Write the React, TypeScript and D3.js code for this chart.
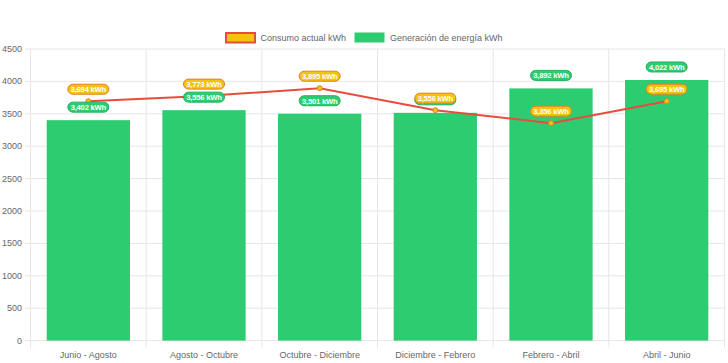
import React from "react";
import * as d3 from "d3";

const WIDTH = 728;
const HEIGHT = 363;

const categories = [
  "Junio - Agosto",
  "Agosto - Octubre",
  "Octubre - Diciembre",
  "Diciembre - Febrero",
  "Febrero - Abril",
  "Abril - Junio",
];
const consumo = [3694, 3773, 3895, 3556, 3356, 3695];
const generacion = [3402, 3556, 3501, 3515, 3892, 4022];
const yTicks = [0, 500, 1000, 1500, 2000, 2500, 3000, 3500, 4000, 4500];

const FONT = "'Liberation Sans', Arial, sans-serif";
const GREEN = "#2ecc71";
const YELLOW = "#f1c40f";
const RED = "#e74c3c";
const GRID = "#e6e6e6";

const fmt = (v: number) => d3.format(",")(v) + " kWh";

function Label({ x, y, text, fill, stroke }: any) {
  const w = 41;
  const h = 10;
  return (
    <g>
      <rect x={x - w / 2} y={y - h / 2} width={w} height={h} rx={5} fill={fill} stroke={stroke} strokeWidth={1} />
      <text x={x} y={y + 2.8} textAnchor="middle" fontSize={7.6} fontWeight="bold" fill="#fff" fontFamily={FONT}
        letterSpacing={-0.2}>
        {text}
      </text>
    </g>
  );
}

export default function App() {
  const left = 30.5;
  const right = 724.5;
  const top = 49;
  const bottom = 340.6;

  const x = d3.scaleBand<string>().domain(categories).range([left, right]).paddingInner(0).paddingOuter(0);
  const y = d3.scaleLinear().domain([0, 4500]).range([bottom, top]);
  const bw = x.bandwidth() * 0.72;
  const cx = (c: string) => (x(c) as number) + x.bandwidth() / 2;

  const line = d3
    .line<number>()
    .x((d, i) => cx(categories[i]))
    .y((d) => y(d));

  const bounds = categories.map((c) => x(c) as number).concat([right]);

  return (
    <svg width={WIDTH} height={HEIGHT} style={{ position: "absolute", left: 0, top: 0 }}>
      {/* legend */}
      <rect x={226} y={33} width={29} height={9.5} fill={YELLOW} stroke={RED} strokeWidth={2} />
      <text x={260.5} y={40.5} fontSize={9} fill="#666" fontFamily={FONT}>Consumo actual kWh</text>
      <rect x={354.5} y={32.5} width={30} height={10} fill={GREEN} />
      <text x={390} y={40.5} fontSize={9} fill="#666" fontFamily={FONT}>Generación de energía kWh</text>

      {/* grid */}
      {yTicks.map((t) => (
        <g key={t}>
          <line x1={25} x2={right} y1={y(t)} y2={y(t)} stroke={GRID} strokeWidth={1} />
          <text x={22} y={y(t) + 3} textAnchor="end" fontSize={9} fill="#666" fontFamily={FONT}>{t}</text>
        </g>
      ))}
      {bounds.map((b, i) => (
        <line key={i} x1={b} x2={b} y1={top} y2={bottom + 7} stroke={GRID} strokeWidth={1} />
      ))}
      {categories.map((c) => (
        <text key={c} x={cx(c)} y={358} textAnchor="middle" fontSize={9} fill="#666" fontFamily={FONT}>{c}</text>
      ))}

      {/* bars */}
      {generacion.map((v, i) => (
        <rect key={i} x={cx(categories[i]) - bw / 2} y={y(v)} width={bw} height={bottom - y(v)} fill={GREEN} />
      ))}

      {/* line */}
      <path d={line(consumo) || ""} fill="none" stroke={RED} strokeWidth={2} />
      {consumo.map((v, i) => (
        <circle key={i} cx={cx(categories[i])} cy={y(v)} r={2.5} fill={YELLOW} stroke="#e67e22" strokeWidth={1} />
      ))}

      {/* data labels */}
      {generacion.map((v, i) => (
        <Label key={"g" + i} x={cx(categories[i])} y={y(v) - 13} text={fmt(v)} fill={GREEN} stroke="#27ae60" />
      ))}
      {consumo.map((v, i) => (
        <Label key={"c" + i} x={cx(categories[i])} y={y(v) - 12} text={fmt(v)} fill={YELLOW} stroke="#e67e22" />
      ))}
    </svg>
  );
}
